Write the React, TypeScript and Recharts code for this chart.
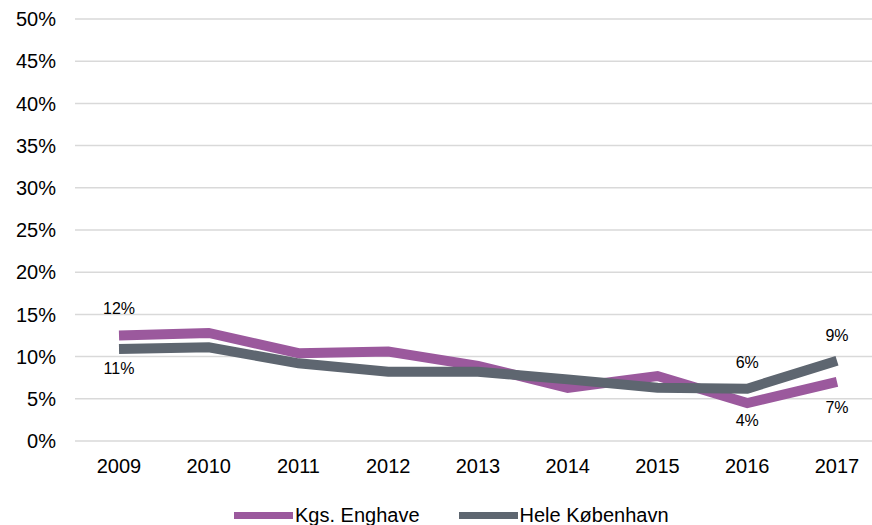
import { LineChart, Line, XAxis, YAxis, CartesianGrid, Legend, LabelList } from "recharts"

const years = ["2009", "2010", "2011", "2012", "2013", "2014", "2015", "2016", "2017"]
const enghave = [12.5, 12.8, 10.4, 10.6, 8.9, 6.3, 7.7, 4.5, 7.0]
const kbh = [10.9, 11.1, 9.2, 8.2, 8.2, 7.3, 6.3, 6.2, 9.5]
const enghaveLabels = ["12%", "", "", "", "", "", "", "4%", "7%"]
const kbhLabels = ["11%", "", "", "", "", "", "", "6%", "9%"]
const yTicks = [0, 5, 10, 15, 20, 25, 30, 35, 40, 45, 50]

const PURPLE = "#9b599d"
const GRAY = "#5e6670"

const data = years.map((year, i) => ({ year, enghave: enghave[i], kbh: kbh[i] }))

// vertical offset of each value label from its point (negative = above)
const enghaveOffset = [-27, 0, 0, 0, 0, 0, 0, 17, 26]
const kbhOffset = [19, 0, 0, 0, 0, 0, 0, -26, -25]

function makeLabel(texts: string[], offsets: number[]) {
  return (props: any) => {
    const { x, y, index } = props
    const text = texts[index]
    if (!text) return null
    return (
      <text x={x} y={y + offsets[index]} textAnchor="middle" dominantBaseline="central" fontSize={16} fill="#000">
        {text}
      </text>
    )
  }
}

function LegendContent() {
  const items = [
    { name: "Kgs. Enghave", color: PURPLE },
    { name: "Hele København", color: GRAY },
  ]
  return (
    <div style={{ display: "flex", height: 44, boxSizing: "border-box", paddingTop: 24, paddingLeft: 234, fontSize: 20, lineHeight: "20px", color: "#000" }}>
      {items.map((it, i) => (
        <div key={it.name} style={{ display: "flex", alignItems: "center", marginRight: i === 0 ? 39 : 0 }}>
          <span style={{ display: "inline-block", width: 59, height: 7, background: it.color, marginRight: 2 }} />
          <span>{it.name}</span>
        </div>
      ))}
    </div>
  )
}

export default function App() {
  return (
    <div style={{ position: "absolute", left: 0, top: 0, width: 872, height: 525, overflow: "hidden", background: "#fff", fontFamily: "'Liberation Sans', Arial, sans-serif" }}>
      <LineChart width={890} height={525} data={data} margin={{ top: 19, right: 9, bottom: 0, left: 0 }}>
        <CartesianGrid vertical={false} stroke="#d9d9d9" strokeWidth={1.5} />
        <XAxis
          dataKey="year"
          axisLine={false}
          tickLine={false}
          padding={{ left: 44, right: 44 }}
          height={40}
          tickMargin={12}
          tick={{ fontSize: 20, fill: "#000" }}
        />
        <YAxis
          domain={[0, 50]}
          ticks={yTicks}
          tickFormatter={(v: number) => `${v}%`}
          axisLine={false}
          tickLine={false}
          width={75}
          tickMargin={13}
          tick={{ fontSize: 20, fill: "#000" }}
        />
        <Legend verticalAlign="bottom" content={<LegendContent />} wrapperStyle={{ left: 0, width: 872 }} />
        <Line
          type="linear"
          dataKey="enghave"
          name="Kgs. Enghave"
          stroke={PURPLE}
          strokeWidth={10}
          dot={false}
          isAnimationActive={false}
        >
          <LabelList dataKey="enghave" content={makeLabel(enghaveLabels, enghaveOffset)} />
        </Line>
        <Line
          type="linear"
          dataKey="kbh"
          name="Hele København"
          stroke={GRAY}
          strokeWidth={10}
          dot={false}
          isAnimationActive={false}
        >
          <LabelList dataKey="kbh" content={makeLabel(kbhLabels, kbhOffset)} />
        </Line>
      </LineChart>
    </div>
  )
}
